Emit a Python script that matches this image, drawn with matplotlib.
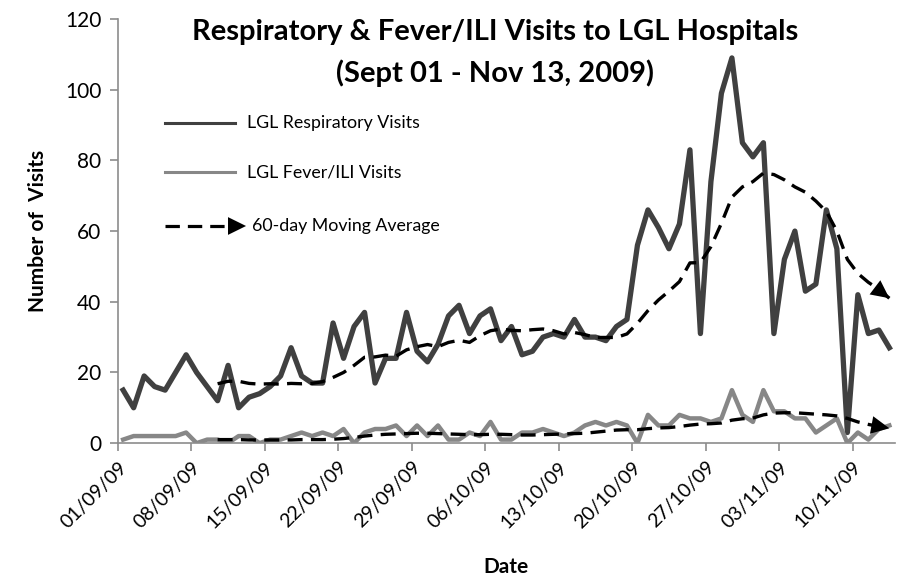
import numpy as np
import matplotlib
matplotlib.use("Agg")
import matplotlib.pyplot as plt

plt.rcParams["font.family"] = ["Lato", "DejaVu Sans"]

# one value per day, 01/09/09 .. 13/11/09
tick_labels = ["01/09/09", "08/09/09", "15/09/09", "22/09/09", "29/09/09", "06/10/09",
               "13/10/09", "20/10/09", "27/10/09", "03/11/09", "10/11/09"]

respiratory = [15, 10, 19, 16, 15, 20, 25, 20, 16, 12,
               22, 10, 13, 14, 16, 19, 27, 19, 17, 17,
               34, 24, 33, 37, 17, 24, 24, 37, 26, 23,
               28, 36, 39, 31, 36, 38, 29, 33, 25, 26,
               30, 31, 30, 35, 30, 30, 29, 33, 35, 56,
               66, 61, 55, 62, 83, 31, 74, 99, 109, 85,
               81, 85, 31, 52, 60, 43, 45, 66, 55, 3,
               42, 31, 32, 27]

fever = [1, 2, 2, 2, 2, 2, 3, 0, 1, 1,
         0, 2, 2, 0, 1, 1, 2, 3, 2, 3,
         2, 4, 0, 3, 4, 4, 5, 2, 5, 2,
         5, 1, 1, 3, 2, 6, 1, 1, 3, 3,
         4, 3, 2, 3, 5, 6, 5, 6, 5, 0,
         8, 5, 5, 8, 7, 7, 6, 7, 15, 8,
         6, 15, 9, 9, 7, 7, 3, 5, 7, 0,
         3, 1, 4, 5]

# moving averages, from 10/09/09 onward
resp_avg = [16.8, 17.5, 17.5, 16.9, 16.7, 16.8, 16.7, 16.9, 16.8, 16.9,
            17.4, 18.6, 20.0, 22.0, 24.3, 24.4, 24.9, 24.6, 26.4, 27.3,
            27.9, 27.3, 28.5, 29.1, 28.5, 30.4, 31.8, 32.3, 31.9, 31.8,
            32.1, 32.3, 31.8, 30.9, 31.3, 30.7, 29.9, 29.9, 29.9, 30.9,
            33.9, 37.5, 40.5, 43.0, 45.7, 51.0, 51.1, 55.6, 62.2, 69.6,
            72.5, 74.0, 76.4, 76.0, 74.5, 72.5, 71.0, 68.5, 65.5, 60.0,
            52.0, 48.0, 45.5, 43.5, 41.0]

fever_avg = [1.0, 1.0, 1.0, 0.9, 0.9, 0.9, 0.9, 0.9, 1.0, 1.0,
             1.0, 1.1, 1.3, 1.6, 2.0, 2.3, 2.5, 2.6, 2.7, 2.8,
             2.8, 2.7, 2.6, 2.5, 2.4, 2.4, 2.5, 2.5, 2.4, 2.3,
             2.3, 2.4, 2.5, 2.6, 2.7, 2.8, 3.1, 3.4, 3.7, 3.8,
             3.8, 4.1, 4.3, 4.4, 4.7, 5.1, 5.4, 5.5, 5.7, 6.5,
             6.9, 7.1, 8.0, 8.5, 8.6, 8.6, 8.4, 8.2, 8.0, 7.7,
             7.0, 6.0, 5.3, 4.7, 4.2]

fig = plt.figure(figsize=(9, 5.77), dpi=100)
ax = fig.add_axes([0.131, 0.232, 0.863, 0.735])

days = np.arange(len(respiratory)) + 0.5
avg_days = days[len(respiratory) - len(resp_avg):]

ax.plot(days, respiratory, color="#404040", lw=3.8)
ax.plot(days, fever, color="#878787", lw=3.2)

for avg in (resp_avg, fever_avg):
    ax.plot(avg_days, avg, color="black", lw=2.4, dashes=(4.5, 2.5))
    ax.annotate("", xy=(avg_days[-1], avg[-1]), xytext=(avg_days[-3], avg[-3]),
                arrowprops=dict(arrowstyle="-|>,head_length=0.65,head_width=0.32",
                                mutation_scale=20, fc="black", lw=0,
                                shrinkA=0, shrinkB=0))

ax.set_xlim(0, 74)
ax.set_ylim(0, 120)
ax.set_xticks(np.arange(0, 71, 7))
ax.set_xticklabels(tick_labels, rotation=45, ha="right", rotation_mode="anchor",
                   fontsize=14)
ax.set_yticks(np.arange(0, 121, 20))
ax.tick_params(axis="y", labelsize=15, length=6, width=1.2, color="#8c8c8c", pad=6)
ax.tick_params(axis="x", length=6, width=1.2, color="#8c8c8c", pad=5)

for side in ("top", "right"):
    ax.spines[side].set_visible(False)
for side in ("left", "bottom"):
    ax.spines[side].set_color("#8c8c8c")
    ax.spines[side].set_linewidth(1.2)

ax.set_ylabel("Number of  Visits", fontsize=15, fontweight="bold", labelpad=12)
ax.set_xlabel("Date", fontsize=15, fontweight="bold")
ax.xaxis.set_label_coords(0.5, -0.268)

fig.text(0.55, 0.945, "Respiratory & Fever/ILI Visits to LGL Hospitals",
         ha="center", va="center", fontsize=21, fontweight="bold")
fig.text(0.55, 0.873, "(Sept 01 - Nov 13, 2009)",
         ha="center", va="center", fontsize=21, fontweight="bold")

# legend drawn by hand
tr = ax.transAxes
ax.plot([0.0605, 0.151], [0.755, 0.755], color="#404040", lw=2.2, transform=tr)
ax.plot([0.0605, 0.151], [0.639, 0.639], color="#878787", lw=2.2, transform=tr)
ax.plot([0.0605, 0.146], [0.512, 0.512], color="black", lw=2.3,
        dashes=(4.5, 2.5), transform=tr)
ax.annotate("", xy=(0.165, 0.512), xytext=(0.130, 0.512), xycoords=tr,
            arrowprops=dict(arrowstyle="-|>,head_length=0.65,head_width=0.32",
                            mutation_scale=20, fc="black", lw=0,
                            shrinkA=0, shrinkB=0))
ax.text(0.166, 0.755, "LGL Respiratory Visits", transform=tr, va="center", fontsize=12.8)
ax.text(0.166, 0.639, "LGL Fever/ILI Visits", transform=tr, va="center", fontsize=12.8)
ax.text(0.173, 0.512, "60-day Moving Average", transform=tr, va="center", fontsize=12.8)

fig.savefig("out.png", dpi=100)
